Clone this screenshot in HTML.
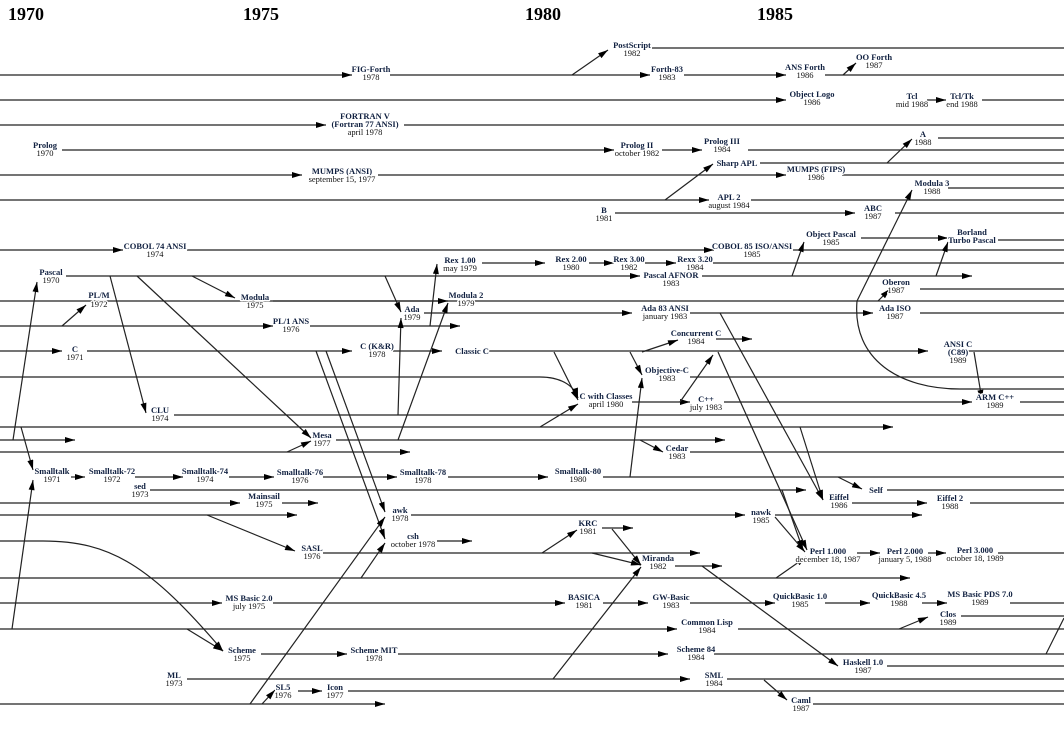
<!DOCTYPE html>
<html><head><meta charset="utf-8"><style>
html,body{margin:0;padding:0;background:#fff;}
svg{display:block;}
text{font-family:"Liberation Serif",serif;font-size:8.5px;text-anchor:middle;fill:#111;stroke:#fff;stroke-width:2.5px;paint-order:stroke;stroke-linejoin:round;}
.n{font-weight:bold;fill:#102040;}
.h{font-size:18px;font-weight:bold;text-anchor:start;fill:#000;stroke:none;}
.l line,.l path{stroke:#222;stroke-width:1.2;fill:none;}
.a line,.a path{stroke:#222;stroke-width:1.2;fill:none;marker-end:url(#ah);}
</style></head><body>
<svg width="1064" height="742" viewBox="0 0 1064 742" xmlns="http://www.w3.org/2000/svg">
<defs><marker id="ah" viewBox="0 0 10 6" refX="10" refY="3" markerWidth="11" markerHeight="6" orient="auto" markerUnits="userSpaceOnUse"><path d="M0,0L10,3L0,6z" fill="#000"/></marker></defs>
<text class="h" x="8" y="20">1970</text>
<text class="h" x="243" y="20">1975</text>
<text class="h" x="525" y="20">1980</text>
<text class="h" x="757" y="20">1985</text>

<g class="l">
<line x1="652" y1="48" x2="1064" y2="48"/>
<line x1="825" y1="75" x2="1064" y2="75"/>
<line x1="982" y1="100" x2="1064" y2="100"/>
<line x1="404" y1="125" x2="1064" y2="125"/>
<line x1="938" y1="138" x2="1064" y2="138"/>
<line x1="748" y1="150" x2="1064" y2="150"/>
<line x1="760" y1="163" x2="1064" y2="163"/>
<line x1="842" y1="175" x2="1064" y2="175"/>
<line x1="948" y1="188" x2="1064" y2="188"/>
<line x1="751" y1="200" x2="1064" y2="200"/>
<line x1="895" y1="213" x2="1064" y2="213"/>
<line x1="998" y1="240" x2="1064" y2="240"/>
<line x1="793" y1="250" x2="1064" y2="250"/>
<line x1="713" y1="263" x2="1064" y2="263"/>
<line x1="920" y1="289" x2="1064" y2="289"/>
<line x1="0" y1="301" x2="1064" y2="301"/>
<line x1="920" y1="313" x2="1064" y2="313"/>
<line x1="967" y1="351" x2="1064" y2="351"/>
<line x1="690" y1="377" x2="1064" y2="377"/>
<line x1="1020" y1="402" x2="1064" y2="402"/>
<line x1="174" y1="415" x2="1064" y2="415"/>
<line x1="690" y1="452" x2="1064" y2="452"/>
<line x1="603" y1="477" x2="1064" y2="477"/>
<line x1="887" y1="490" x2="1064" y2="490"/>
<line x1="970" y1="503" x2="1064" y2="503"/>
<line x1="998" y1="553" x2="1064" y2="553"/>
<line x1="1010" y1="603" x2="1064" y2="603"/>
<line x1="961" y1="616" x2="1064" y2="616"/>
<line x1="738" y1="629" x2="1064" y2="629"/>
<line x1="714" y1="654" x2="1064" y2="654"/>
<line x1="887" y1="666" x2="1064" y2="666"/>
<line x1="727" y1="679" x2="1064" y2="679"/>
<line x1="348" y1="691" x2="1064" y2="691"/>
<line x1="813" y1="704" x2="1064" y2="704"/>
<path d="M857,301 C852,360 900,389 960,389 L1064,389"/>
<line x1="1046" y1="654" x2="1064" y2="618"/>
</g>

<g class="a">
<line x1="0" y1="75" x2="352" y2="75"/>
<line x1="390" y1="75" x2="650" y2="75"/>
<line x1="684" y1="75" x2="786" y2="75"/>
<line x1="572" y1="75" x2="608" y2="50"/>
<line x1="843" y1="75" x2="856" y2="63"/>
<line x1="0" y1="100" x2="786" y2="100"/>
<line x1="927" y1="100" x2="946" y2="100"/>
<line x1="0" y1="125" x2="326" y2="125"/>
<line x1="62" y1="150" x2="614" y2="150"/>
<line x1="662" y1="150" x2="702" y2="150"/>
<line x1="887" y1="163" x2="912" y2="139"/>
<line x1="0" y1="175" x2="302" y2="175"/>
<line x1="378" y1="175" x2="786" y2="175"/>
<line x1="0" y1="200" x2="709" y2="200"/>
<line x1="665" y1="200" x2="713" y2="164"/>
<line x1="615" y1="213" x2="855" y2="213"/>
<line x1="861" y1="238" x2="948" y2="238"/>
<line x1="0" y1="250" x2="123" y2="250"/>
<line x1="187" y1="250" x2="714" y2="250"/>
<line x1="482" y1="263" x2="545" y2="263"/>
<line x1="589" y1="263" x2="614" y2="263"/>
<line x1="645" y1="263" x2="676" y2="263"/>
<line x1="66" y1="276" x2="640" y2="276"/>
<line x1="702" y1="276" x2="972" y2="276"/>
<line x1="792" y1="276" x2="804" y2="242"/>
<line x1="936" y1="276" x2="948" y2="242"/>
<line x1="878" y1="301" x2="890" y2="289"/>
<line x1="857" y1="301" x2="912" y2="190"/>
<line x1="273" y1="301" x2="448" y2="301"/>
<line x1="424" y1="313" x2="632" y2="313"/>
<line x1="690" y1="313" x2="873" y2="313"/>
<line x1="0" y1="326" x2="273" y2="326"/>
<line x1="310" y1="326" x2="460" y2="326"/>
<line x1="62" y1="326" x2="86" y2="305"/>
<line x1="430" y1="326" x2="437" y2="264"/>
<line x1="716" y1="339" x2="752" y2="339"/>
<line x1="0" y1="351" x2="62" y2="351"/>
<line x1="87" y1="351" x2="352" y2="351"/>
<line x1="393" y1="351" x2="442" y2="351"/>
<line x1="488" y1="351" x2="928" y2="351"/>
<line x1="642" y1="352" x2="678" y2="340"/>
<line x1="630" y1="352" x2="642" y2="375"/>
<line x1="554" y1="352" x2="578" y2="400"/>
<path d="M0,377 L540,377 C560,377 574,385 578,398"/>
<line x1="540" y1="427" x2="578" y2="404"/>
<line x1="974" y1="352" x2="982" y2="400"/>
<line x1="632" y1="402" x2="690" y2="402"/>
<line x1="724" y1="402" x2="972" y2="402"/>
<line x1="680" y1="402" x2="713" y2="355"/>
<line x1="0" y1="427" x2="893" y2="427"/>
<line x1="0" y1="440" x2="75" y2="440"/>
<line x1="336" y1="440" x2="725" y2="440"/>
<line x1="0" y1="452" x2="410" y2="452"/>
<line x1="287" y1="452" x2="311" y2="441"/>
<line x1="640" y1="440" x2="663" y2="452"/>
<line x1="630" y1="477" x2="642" y2="378"/>
<line x1="13" y1="440" x2="37" y2="282"/>
<line x1="21" y1="427" x2="33" y2="470"/>
<line x1="12" y1="629" x2="33" y2="480"/>
<line x1="110" y1="276" x2="146" y2="413"/>
<line x1="137" y1="276" x2="311" y2="438"/>
<line x1="192" y1="276" x2="235" y2="298"/>
<line x1="385" y1="276" x2="401" y2="312"/>
<line x1="398" y1="415" x2="401" y2="318"/>
<line x1="398" y1="440" x2="448" y2="303"/>
<line x1="316" y1="351" x2="385" y2="539"/>
<line x1="326" y1="351" x2="385" y2="512"/>
<line x1="250" y1="704" x2="385" y2="517"/>
<line x1="262" y1="704" x2="275" y2="690"/>
<line x1="361" y1="578" x2="385" y2="543"/>
<path d="M0,541 L43,541 C110,541 150,565 223,651"/>
<line x1="187" y1="629" x2="223" y2="651"/>
<line x1="207" y1="515" x2="295" y2="551"/>
<line x1="71" y1="477" x2="85" y2="477"/>
<line x1="135" y1="477" x2="183" y2="477"/>
<line x1="229" y1="477" x2="274" y2="477"/>
<line x1="323" y1="477" x2="397" y2="477"/>
<line x1="448" y1="477" x2="548" y2="477"/>
<line x1="150" y1="490" x2="806" y2="490"/>
<line x1="838" y1="477" x2="862" y2="489"/>
<line x1="0" y1="503" x2="240" y2="503"/>
<line x1="282" y1="503" x2="318" y2="503"/>
<line x1="852" y1="503" x2="927" y2="503"/>
<line x1="0" y1="515" x2="297" y2="515"/>
<line x1="411" y1="515" x2="745" y2="515"/>
<line x1="775" y1="515" x2="922" y2="515"/>
<line x1="720" y1="313" x2="823" y2="500"/>
<line x1="800" y1="427" x2="823" y2="500"/>
<line x1="718" y1="352" x2="807" y2="550"/>
<line x1="782" y1="490" x2="803" y2="550"/>
<line x1="775" y1="517" x2="805" y2="552"/>
<line x1="776" y1="578" x2="806" y2="557"/>
<line x1="602" y1="528" x2="633" y2="528"/>
<line x1="542" y1="553" x2="577" y2="530"/>
<line x1="437" y1="541" x2="472" y2="541"/>
<line x1="323" y1="553" x2="700" y2="553"/>
<line x1="857" y1="553" x2="880" y2="553"/>
<line x1="928" y1="553" x2="946" y2="553"/>
<line x1="612" y1="529" x2="641" y2="565"/>
<line x1="592" y1="553" x2="641" y2="565"/>
<line x1="553" y1="679" x2="641" y2="567"/>
<line x1="675" y1="566" x2="722" y2="566"/>
<line x1="702" y1="566" x2="838" y2="666"/>
<line x1="0" y1="578" x2="910" y2="578"/>
<line x1="0" y1="603" x2="222" y2="603"/>
<line x1="273" y1="603" x2="565" y2="603"/>
<line x1="603" y1="603" x2="648" y2="603"/>
<line x1="690" y1="603" x2="775" y2="603"/>
<line x1="825" y1="603" x2="870" y2="603"/>
<line x1="922" y1="603" x2="947" y2="603"/>
<line x1="0" y1="629" x2="677" y2="629"/>
<line x1="899" y1="629" x2="928" y2="617"/>
<line x1="261" y1="654" x2="347" y2="654"/>
<line x1="398" y1="654" x2="668" y2="654"/>
<line x1="187" y1="679" x2="690" y2="679"/>
<line x1="764" y1="680" x2="787" y2="700"/>
<line x1="298" y1="691" x2="322" y2="691"/>
<line x1="0" y1="704" x2="385" y2="704"/>
</g>

<g>
<text class="n" x="371" y="72">FIG-Forth</text><text x="371" y="80">1978</text>
<text class="n" x="365" y="119">FORTRAN V</text><text class="n" x="365" y="127">(Fortran 77 ANSI)</text><text x="365" y="135">april 1978</text>
<text class="n" x="45" y="148">Prolog</text><text x="45" y="156">1970</text>
<text class="n" x="342" y="174">MUMPS (ANSI)</text><text x="342" y="182">september 15, 1977</text>
<text class="n" x="155" y="249">COBOL 74 ANSI</text><text x="155" y="257">1974</text>
<text class="n" x="51" y="275">Pascal</text><text x="51" y="283">1970</text>
<text class="n" x="99" y="298">PL/M</text><text x="99" y="307">1972</text>
<text class="n" x="255" y="300">Modula</text><text x="255" y="308">1975</text>
<text class="n" x="291" y="324">PL/1 ANS</text><text x="291" y="332">1976</text>
<text class="n" x="75" y="352">C</text><text x="75" y="360">1971</text>
<text class="n" x="377" y="349">C (K&amp;R)</text><text x="377" y="357">1978</text>
<text class="n" x="472" y="354">Classic C</text>
<text class="n" x="460" y="263">Rex 1.00</text><text x="460" y="271">may 1979</text>
<text class="n" x="466" y="298">Modula 2</text><text x="466" y="306">1979</text>
<text class="n" x="412" y="312">Ada</text><text x="412" y="320">1979</text>
<text class="n" x="632" y="48">PostScript</text><text x="632" y="56">1982</text>
<text class="n" x="667" y="72">Forth-83</text><text x="667" y="80">1983</text>
<text class="n" x="805" y="70">ANS Forth</text><text x="805" y="78">1986</text>
<text class="n" x="874" y="60">OO Forth</text><text x="874" y="68">1987</text>
<text class="n" x="812" y="97">Object Logo</text><text x="812" y="105">1986</text>
<text class="n" x="912" y="99">Tcl</text><text x="912" y="107">mid 1988</text>
<text class="n" x="962" y="99">Tcl/Tk</text><text x="962" y="107">end 1988</text>
<text class="n" x="923" y="137">A</text><text x="923" y="145">1988</text>
<text class="n" x="637" y="148">Prolog II</text><text x="637" y="156">october 1982</text>
<text class="n" x="722" y="144">Prolog III</text><text x="722" y="152">1984</text>
<text class="n" x="737" y="166">Sharp APL</text>
<text class="n" x="816" y="172">MUMPS (FIPS)</text><text x="816" y="180">1986</text>
<text class="n" x="932" y="186">Modula 3</text><text x="932" y="194">1988</text>
<text class="n" x="729" y="200">APL 2</text><text x="729" y="208">august 1984</text>
<text class="n" x="604" y="213">B</text><text x="604" y="221">1981</text>
<text class="n" x="873" y="211">ABC</text><text x="873" y="219">1987</text>
<text class="n" x="831" y="237">Object Pascal</text><text x="831" y="245">1985</text>
<text class="n" x="972" y="235">Borland</text><text class="n" x="972" y="243">Turbo Pascal</text>
<text class="n" x="752" y="249">COBOL 85 ISO/ANSI</text><text x="752" y="257">1985</text>
<text class="n" x="571" y="262">Rex 2.00</text><text x="571" y="270">1980</text>
<text class="n" x="629" y="262">Rex 3.00</text><text x="629" y="270">1982</text>
<text class="n" x="695" y="262">Rexx 3.20</text><text x="695" y="270">1984</text>
<text class="n" x="671" y="278">Pascal AFNOR</text><text x="671" y="286">1983</text>
<text class="n" x="896" y="285">Oberon</text><text x="896" y="293">1987</text>
<text class="n" x="665" y="311">Ada 83 ANSI</text><text x="665" y="319">january 1983</text>
<text class="n" x="895" y="311">Ada ISO</text><text x="895" y="319">1987</text>
<text class="n" x="696" y="336">Concurrent C</text><text x="696" y="344">1984</text>
<text class="n" x="958" y="347">ANSI C</text><text class="n" x="958" y="355">(C89)</text><text x="958" y="363">1989</text>
<text class="n" x="667" y="373">Objective-C</text><text x="667" y="381">1983</text>
<text class="n" x="606" y="399">C with Classes</text><text x="606" y="407">april 1980</text>
<text class="n" x="706" y="402">C++</text><text x="706" y="410">july 1983</text>
<text class="n" x="995" y="400">ARM C++</text><text x="995" y="408">1989</text>
<text class="n" x="160" y="413">CLU</text><text x="160" y="421">1974</text>
<text class="n" x="322" y="438">Mesa</text><text x="322" y="446">1977</text>
<text class="n" x="677" y="451">Cedar</text><text x="677" y="459">1983</text>
<text class="n" x="52" y="474">Smalltalk</text><text x="52" y="482">1971</text>
<text class="n" x="112" y="474">Smalltalk-72</text><text x="112" y="482">1972</text>
<text class="n" x="205" y="474">Smalltalk-74</text><text x="205" y="482">1974</text>
<text class="n" x="300" y="475">Smalltalk-76</text><text x="300" y="483">1976</text>
<text class="n" x="423" y="475">Smalltalk-78</text><text x="423" y="483">1978</text>
<text class="n" x="578" y="474">Smalltalk-80</text><text x="578" y="482">1980</text>
<text class="n" x="140" y="489">sed</text><text x="140" y="497">1973</text>
<text class="n" x="876" y="493">Self</text>
<text class="n" x="264" y="499">Mainsail</text><text x="264" y="507">1975</text>
<text class="n" x="839" y="500">Eiffel</text><text x="839" y="508">1986</text>
<text class="n" x="950" y="501">Eiffel 2</text><text x="950" y="509">1988</text>
<text class="n" x="400" y="513">awk</text><text x="400" y="521">1978</text>
<text class="n" x="761" y="515">nawk</text><text x="761" y="523">1985</text>
<text class="n" x="413" y="539">csh</text><text x="413" y="547">october 1978</text>
<text class="n" x="312" y="551">SASL</text><text x="312" y="559">1976</text>
<text class="n" x="588" y="526">KRC</text><text x="588" y="534">1981</text>
<text class="n" x="828" y="554">Perl 1.000</text><text x="828" y="562">december 18, 1987</text>
<text class="n" x="905" y="554">Perl 2.000</text><text x="905" y="562">january 5, 1988</text>
<text class="n" x="975" y="553">Perl 3.000</text><text x="975" y="561">october 18, 1989</text>
<text class="n" x="658" y="561">Miranda</text><text x="658" y="569">1982</text>
<text class="n" x="249" y="601">MS Basic 2.0</text><text x="249" y="609">july 1975</text>
<text class="n" x="584" y="600">BASICA</text><text x="584" y="608">1981</text>
<text class="n" x="671" y="600">GW-Basic</text><text x="671" y="608">1983</text>
<text class="n" x="800" y="599">QuickBasic 1.0</text><text x="800" y="607">1985</text>
<text class="n" x="899" y="598">QuickBasic 4.5</text><text x="899" y="606">1988</text>
<text class="n" x="980" y="597">MS Basic PDS 7.0</text><text x="980" y="605">1989</text>
<text class="n" x="948" y="617">Clos</text><text x="948" y="625">1989</text>
<text class="n" x="707" y="625">Common Lisp</text><text x="707" y="633">1984</text>
<text class="n" x="242" y="653">Scheme</text><text x="242" y="661">1975</text>
<text class="n" x="374" y="653">Scheme MIT</text><text x="374" y="661">1978</text>
<text class="n" x="696" y="652">Scheme 84</text><text x="696" y="660">1984</text>
<text class="n" x="863" y="665">Haskell 1.0</text><text x="863" y="673">1987</text>
<text class="n" x="174" y="678">ML</text><text x="174" y="686">1973</text>
<text class="n" x="714" y="678">SML</text><text x="714" y="686">1984</text>
<text class="n" x="283" y="690">SL5</text><text x="283" y="698">1976</text>
<text class="n" x="335" y="690">Icon</text><text x="335" y="698">1977</text>
<text class="n" x="801" y="703">Caml</text><text x="801" y="711">1987</text>
</g>
</svg>
</body></html>
